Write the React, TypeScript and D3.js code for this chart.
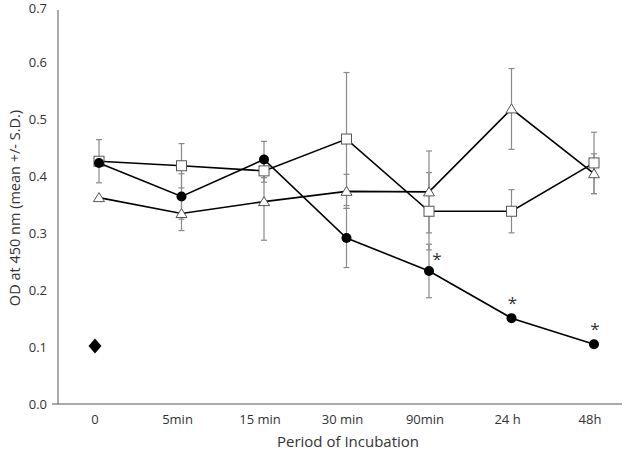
import React from 'react'
import * as d3 from 'd3'

const categories = ['0', '5min', '15 min', '30 min', '90min', '24 h', '48h']
const circleMean = [0.424, 0.365, 0.43, 0.292, 0.234, 0.151, 0.105]
const circleSd = [0.0, 0.04, 0.032, 0.052, 0.047, 0.0, 0.0]
const squareMean = [0.427, 0.419, 0.41, 0.466, 0.339, 0.339, 0.424]
const squareSd = [0.038, 0.039, 0.02, 0.117, 0.068, 0.038, 0.054]
const triangleMean = [0.363, 0.335, 0.356, 0.374, 0.373, 0.519, 0.405]
const triangleSd = [0.0, 0.03, 0.068, 0.03, 0.072, 0.071, 0.035]
const controlValue = 0.102
const significant = [false, false, false, false, true, true, true]
const yTicks = [0, 0.1, 0.2, 0.3, 0.4, 0.5, 0.6, 0.7]

const font = '"Open Sans", "Noto Sans", sans-serif'

export default function App() {
  const width = 624
  const height = 454
  const x = d3.scalePoint<string>().domain(categories).range([99, 594])
  const y = d3.scaleLinear().domain([0, 0.7]).range([404, 6])
  const line = d3.line<number>().x((_, i) => x(categories[i])!).y(d => y(d))

  const series = [
    { key: 'tri', mean: triangleMean, sd: triangleSd },
    { key: 'sq', mean: squareMean, sd: squareSd },
    { key: 'circ', mean: circleMean, sd: circleSd },
  ]

  const marker = (key: string, cx: number, cy: number, k: string) => {
    if (key === 'circ') return <circle key={k} cx={cx} cy={cy} r={5} fill="#000" />
    if (key === 'sq')
      return <rect key={k} x={cx - 5} y={cy - 5} width={10} height={10} fill="#fff" stroke="#555" strokeWidth={1} />
    return (
      <path key={k} d={`M${cx},${cy - 5}L${cx + 5.5},${cy + 4}L${cx - 5.5},${cy + 4}Z`} fill="#fff" stroke="#555" strokeWidth={1} />
    )
  }

  return (
    <svg width={width} height={height} style={{ position: 'absolute', left: 0, top: 0, background: '#fff' }}>
      {/* axes */}
      <line x1={58} x2={58} y1={10} y2={y(0)} stroke="#555" strokeWidth={1} />
      <line x1={52} x2={622} y1={y(0)} y2={y(0)} stroke="#555" strokeWidth={1} />
      {yTicks.map(t => (
        <text key={t} x={47} y={Math.max(y(t), 8)} dy="0.35em" textAnchor="end" fontSize={13} fontFamily={font} fill="#333">
          {t.toFixed(1)}
        </text>
      ))}
      {categories.map(c => (
        <text key={c} x={x(c)! - 4} y={419} dy="0.35em" textAnchor="middle" fontSize={13} fontFamily={font} fill="#333">
          {c}
        </text>
      ))}
      <text x={348} y={442} dy="0.35em" textAnchor="middle" fontSize={15} fontFamily={font} fill="#333">
        Period of Incubation
      </text>
      <text transform={`translate(15,208) rotate(-90)`} textAnchor="middle" dy="0.35em" fontSize={14.5} fontFamily={font} fill="#333">
        OD at 450 nm (mean +/- S.D.)
      </text>

      {/* error bars */}
      {series.map(s =>
        s.mean.map((m, i) => {
          if (!s.sd[i]) return null
          const cx = x(categories[i])!
          const y1 = y(m + s.sd[i])
          const y2 = y(m - s.sd[i])
          return (
            <g key={s.key + i} stroke="#8a8a8a" strokeWidth={1.2}>
              <line x1={cx} x2={cx} y1={y1} y2={y2} />
              <line x1={cx - 3} x2={cx + 3} y1={y1} y2={y1} />
              <line x1={cx - 3} x2={cx + 3} y1={y2} y2={y2} />
            </g>
          )
        })
      )}

      {/* lines and markers */}
      {series.map(s => (
        <g key={s.key}>
          <path d={line(s.mean)!} fill="none" stroke="#000" strokeWidth={1.6} />
          {s.mean.map((m, i) => marker(s.key, x(categories[i])!, y(m), s.key + 'm' + i))}
        </g>
      ))}

      {/* control diamond */}
      <path
        d={`M${x('0')! - 4},${y(controlValue) - 7.5}L${x('0')! + 2.5},${y(controlValue)}L${x('0')! - 4},${y(controlValue) + 7.5}L${x('0')! - 10.5},${y(controlValue)}Z`}
        fill="#000"
      />

      {/* significance marks */}
      {circleMean.map((m, i) =>
        significant[i] ? (
          <text key={'s' + i} x={x(categories[i])! + (i === 4 ? 8 : 1)} y={y(m) - (i === 4 ? 6 : 9)} textAnchor="middle" fontSize={17} fontFamily={font} fill="#333">
            *
          </text>
        ) : null
      )}
    </svg>
  )
}
